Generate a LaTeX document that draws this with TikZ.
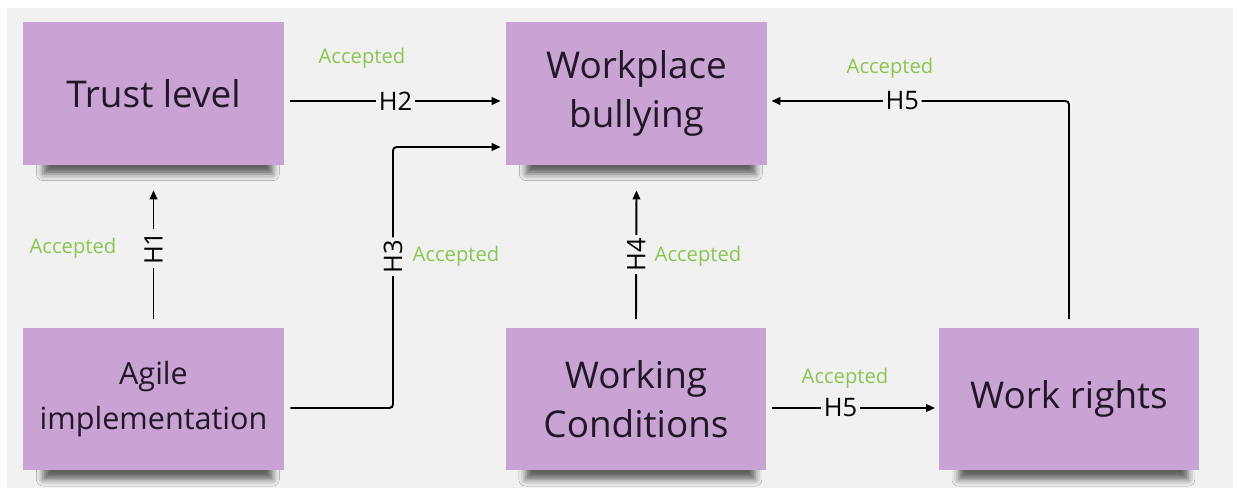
\documentclass[tikz,border=0pt]{standalone}
\usepackage{fontspec}
\setmainfont{Open Sans}
\usetikzlibrary{positioning,arrows.meta,shadows.blur}

\definecolor{stickyviolet}{RGB}{200,163,212}
\definecolor{boardgray}{RGB}{241,241,241}
\definecolor{acceptgreen}{RGB}{139,197,80}
\definecolor{inkdark}{RGB}{33,24,38}

\begin{document}
\begin{tikzpicture}[
    x=0.02cm, y=-0.02cm,
    sticky/.style={rectangle, fill=stickyviolet, text=inkdark, minimum width=5.22cm, minimum height=2.86cm, align=center, font=\fontsize{21}{28}\selectfont, blur shadow={shadow xshift=0.1cm, shadow yshift=-0.4cm, shadow scale=0.88, shadow opacity=60, shadow blur radius=0.15cm}},
    smallsticky/.style={sticky, font=\fontsize{17.4}{25.5}\selectfont},
    link/.style={-{Triangle[length=0.18cm, width=0.15cm]}, line width=1.1pt},
    hyp/.style={fill=boardgray, inner sep=1.5pt, font=\fontsize{14.5}{16}\selectfont},
    verdict/.style={text=acceptgreen, font=\fontsize{11.5}{13}\selectfont}
]

% Board
\useasboundingbox (0,0) rectangle (1237,490);
\fill[white] (0,0) rectangle (1237,490);
\fill[boardgray] (7,8) rectangle (1233,488);

% Sticky notes
\node[sticky] (trust) at (153.5,93.5) {Trust level};
\node[sticky] (bullying) at (636.5,93.5) {Workplace\\bullying};
\node[smallsticky] (agile) at (153.5,399) {Agile\\implementation};
\node[sticky] (conditions) at (636,399) {Working\\Conditions};
\node[sticky] (rights) at (1069,399) {Work rights};

% H1
\draw[link] ([yshift=0.16cm]agile.north) -- node[hyp, rotate=90, pos=0.55] {H1} ([yshift=-0.5cm]trust.south);
\node[verdict] (v1) at (73,248) {Accepted};

% H2
\draw[link] ([xshift=0.12cm, yshift=-0.15cm]trust.east) -- node[hyp] {H2} ([xshift=-0.1cm, yshift=-0.15cm]bullying.west);
\node[verdict] (v2) at (362,58) {Accepted};

% H3
\coordinate (h3knee) at (393,147);
\draw[link, rounded corners=2pt] ([xshift=0.12cm, yshift=-0.18cm]agile.east) -| node[hyp, rotate=90, pos=0.79] {H3} (h3knee) -- ([xshift=-0.1cm]bullying.west |- h3knee);
\node[verdict] (v3) at (456,256) {Accepted};

% H4
\draw[link] ([yshift=0.16cm]conditions.north) -- node[hyp, rotate=90] {H4} ([yshift=-0.5cm]bullying.south);
\node[verdict] (v4) at (698,256) {Accepted};

% H5 (work rights)
\draw[link, rounded corners=2pt] ([yshift=0.16cm]rights.north) |- node[hyp, pos=0.78] {H5} ([xshift=0.08cm, yshift=-0.15cm]bullying.east);
\node[verdict] (v5) at (890,68) {Accepted};

% H5 (working conditions)
\draw[link] ([xshift=0.1cm, yshift=-0.18cm]conditions.east) -- node[hyp, pos=0.42] {H5} ([xshift=-0.06cm, yshift=-0.18cm]rights.west);
\node[verdict] (v6) at (845,378) {Accepted};

\end{tikzpicture}
\end{document}
